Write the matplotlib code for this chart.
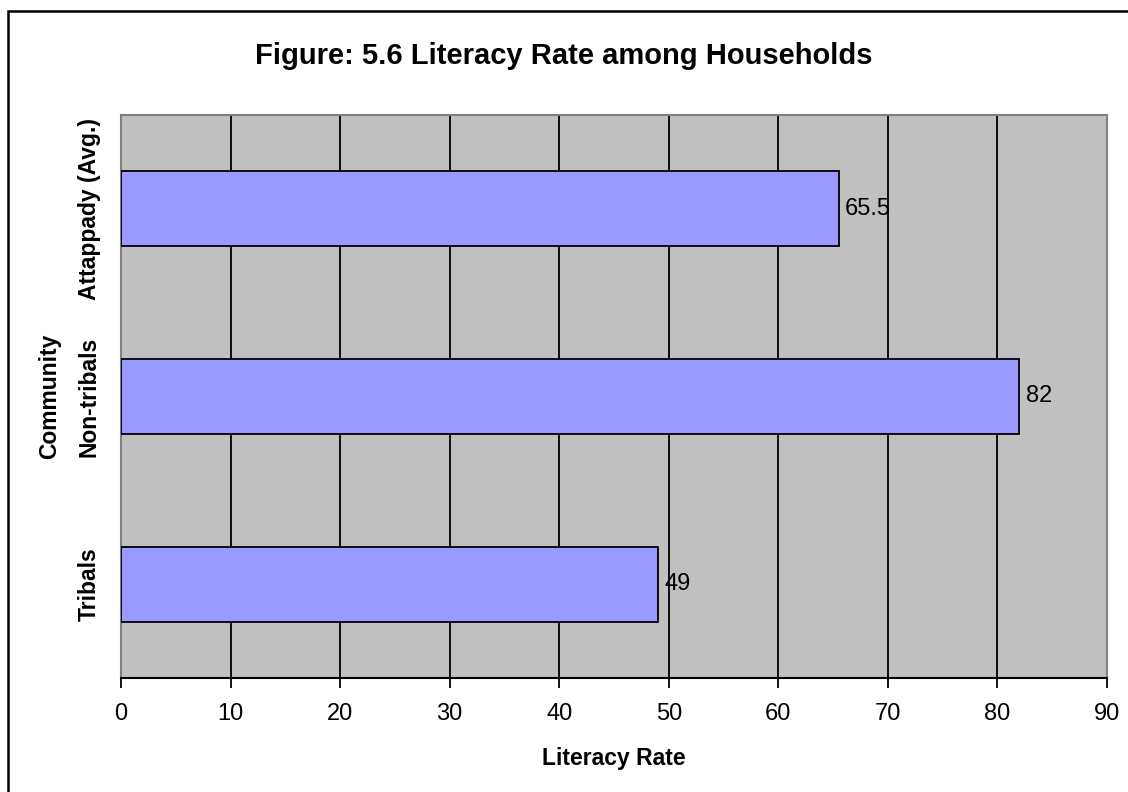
import matplotlib
matplotlib.use("Agg")
import matplotlib.pyplot as plt
from matplotlib.patches import Rectangle

plt.rcParams["font.family"] = ["Liberation Sans", "DejaVu Sans"]

categories = ["Tribals", "Non-tribals", "Attappady (Avg.)"]
literacy = [49, 82, 65.5]
label_text = ["49", "82", "65.5"]
x_ticks = [0, 10, 20, 30, 40, 50, 60, 70, 80, 90]

W, H = 1128, 792
fig = plt.figure(figsize=(W / 100, H / 100), dpi=100)
fig.patch.set_facecolor("white")

# outer chart border (right and bottom run off the canvas)
fig.patches.append(Rectangle((8 / W, -0.1), 1.2, 1 - 11 / H + 0.1,
                             transform=fig.transFigure, fill=False,
                             edgecolor="black", linewidth=1.8))

ax = fig.add_axes([121 / W, 1 - 678 / H, (1107 - 121) / W, (678 - 115) / H])
ax.set_facecolor("#C0C0C0")

ypos = list(range(len(categories)))
bars = ax.barh(ypos, literacy, height=0.4, color="#9999FF",
               edgecolor="black", linewidth=1.3, zorder=3)

for b, t in zip(bars, label_text):
    ax.annotate(t, (b.get_width(), b.get_y() + b.get_height() / 2),
                xytext=(4.5, 0), textcoords="offset points",
                ha="left", va="center", fontsize=17, zorder=4)

ax.set_xlim(0, 90)
ax.set_ylim(-0.5, len(categories) - 0.5)
ax.set_xticks(x_ticks)
ax.set_xticklabels([str(v) for v in x_ticks], fontsize=17)
ax.tick_params(axis="x", length=7, width=1.3, pad=11, direction="out")
ax.xaxis.grid(True, color="black", linewidth=1.3, zorder=1)
ax.set_axisbelow(True)

ax.set_yticks(ypos)
ax.set_yticklabels(categories, rotation=90, va="center", ha="center",
                   fontsize=16.5, fontweight="bold")
ax.tick_params(axis="y", length=0, pad=23)

for side in ("top", "right", "left"):
    ax.spines[side].set_color("#808080")
    ax.spines[side].set_linewidth(1.5)
ax.spines["bottom"].set_color("black")
ax.spines["bottom"].set_linewidth(1.5)

ax.set_xlabel("Literacy Rate", fontsize=16.5, fontweight="bold", labelpad=16)
ax.set_ylabel("Community", fontsize=16.5, fontweight="bold", labelpad=12)

fig.text(0.5, 1 - 56 / H, "Figure: 5.6 Literacy Rate among Households",
         ha="center", va="center", fontsize=21, fontweight="bold")

fig.savefig("out.png", dpi=100)
